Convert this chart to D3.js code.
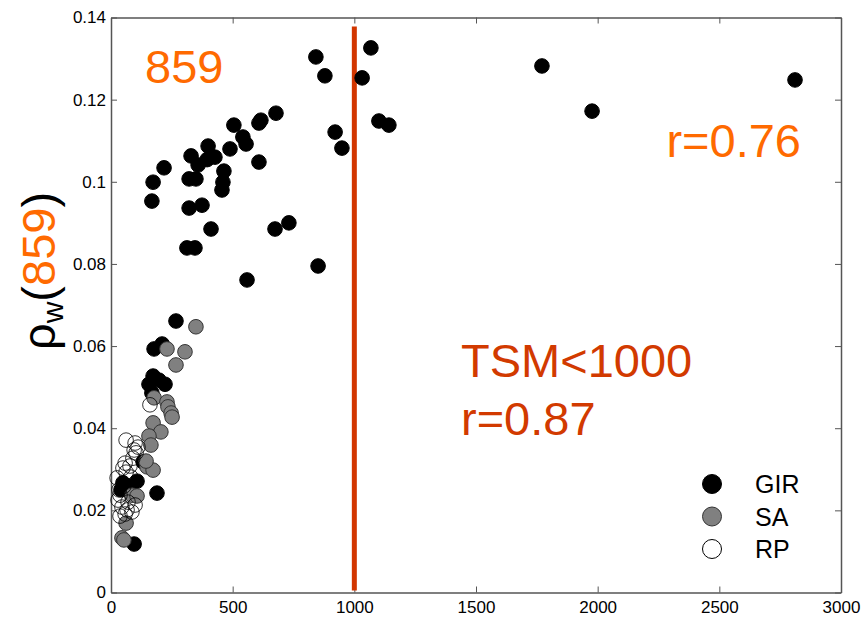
<!DOCTYPE html>
<html>
<head>
<meta charset="utf-8">
<script src="https://cdn.jsdelivr.net/npm/d3@7"></script>
<style>
  body { margin: 0; background: #fff; }
  svg { font-family: "Liberation Sans", Arial, sans-serif; }
  .tick text { fill: #000; }
</style>
</head>
<body>
<svg id="chart" width="865" height="617"></svg>
<script>
// TSM (x) vs rho_w(859) (y)
const girX = [842, 879, 1068, 1032, 921, 949, 1101, 1142, 1771, 1977, 2811, 851, 731, 674, 559,
  678, 616, 608, 608, 542, 555, 505, 489, 464, 460, 456, 427, 399, 395, 411, 374, 358, 349, 329,
  321, 321, 312, 345, 218, 173, 168, 267, 177, 210, 173, 197, 222, 156, 168, 132, 107, 189, 95,
  49, 70, 41, 78];
const girY = [0.1304, 0.1258, 0.1326, 0.1253, 0.1121, 0.1082, 0.1148, 0.1138, 0.1282, 0.1172,
  0.1248, 0.0795, 0.0900, 0.0885, 0.0761, 0.1167, 0.1150, 0.1143, 0.1048, 0.1109, 0.1092, 0.1138,
  0.1080, 0.1026, 0.0999, 0.0980, 0.1060, 0.1087, 0.1054, 0.0885, 0.0943, 0.1041, 0.1007, 0.1063,
  0.1007, 0.0936, 0.0839, 0.0839, 0.1034, 0.0999, 0.0953, 0.0661, 0.0593, 0.0605, 0.0527, 0.0517,
  0.0507, 0.0507, 0.0486, 0.0318, 0.0271, 0.0242, 0.0118, 0.0267, 0.0259, 0.0250, 0.0254];

const saX = [349, 230, 304, 267, 177, 230, 234, 247, 251, 173, 205, 156, 164, 148, 173, 144, 86,
  107, 62, 45, 53];
const saY = [0.0647, 0.0593, 0.0586, 0.0554, 0.0474, 0.0464, 0.0452, 0.0437, 0.0427, 0.0413,
  0.0391, 0.0381, 0.0359, 0.0306, 0.0298, 0.0320, 0.0237, 0.0235, 0.0169, 0.0133, 0.0128];

const rpX = [160, 99, 95, 103, 90, 111, 58, 49, 62, 78, 37, 29, 45, 66, 86, 37, 58, 33, 53, 82,
  70, 99, 25, 62];
const rpY = [0.0457, 0.0364, 0.0347, 0.0340, 0.0327, 0.0354, 0.0315, 0.0303, 0.0293, 0.0308,
  0.0237, 0.0225, 0.0208, 0.0201, 0.0196, 0.0186, 0.0191, 0.0250, 0.0259, 0.0281, 0.0220,
  0.0213, 0.0279, 0.0371];

const xTicks = [0, 500, 1000, 1500, 2000, 2500, 3000];
const yTicks = [0, 0.02, 0.04, 0.06, 0.08, 0.1, 0.12, 0.14];
const yTickLabels = ["0", "0.02", "0.04", "0.06", "0.08", "0.1", "0.12", "0.14"];
const threshold = 1000;

const svg = d3.select("#chart");
const margin = { top: 17.5, right: 24, bottom: 24.5, left: 111 };
const width = +svg.attr("width");
const height = +svg.attr("height");
const innerWidth = width - margin.left - margin.right;
const innerHeight = height - margin.top - margin.bottom;

const xScale = d3.scaleLinear().domain([0, 3000]).range([0, innerWidth]);
const yScale = d3.scaleLinear().domain([0, 0.14]).range([innerHeight, 0]);

const g = svg.append("g").attr("transform", `translate(${margin.left}, ${margin.top})`);

const axisColor = "#555";
const tickLen = 6;

// bottom / left axes with labels, ticks pointing inward
const xAxisG = g.append("g")
  .attr("transform", `translate(0, ${innerHeight})`)
  .call(d3.axisBottom(xScale).tickValues(xTicks).tickFormat(d3.format("d"))
    .tickSizeInner(-tickLen).tickSizeOuter(0).tickPadding(8.5));
const yAxisG = g.append("g")
  .call(d3.axisLeft(yScale).tickValues(yTicks).tickFormat((d, i) => yTickLabels[i])
    .tickSizeInner(-tickLen).tickSizeOuter(0).tickPadding(5));
// top / right ticks only
const xTopG = g.append("g")
  .call(d3.axisTop(xScale).tickValues(xTicks).tickSizeInner(-tickLen).tickSizeOuter(0));
const yRightG = g.append("g")
  .attr("transform", `translate(${innerWidth}, 0)`)
  .call(d3.axisRight(yScale).tickValues(yTicks).tickSizeInner(-tickLen).tickSizeOuter(0));
xTopG.selectAll(".tick text").remove();
yRightG.selectAll(".tick text").remove();

[xAxisG, yAxisG, xTopG, yRightG].forEach(a => {
  a.selectAll("line").attr("stroke", axisColor);
  a.select(".domain").attr("stroke", axisColor).attr("stroke-width", 1.5);
});
xAxisG.selectAll(".tick text").attr("font-size", 17);
yAxisG.selectAll(".tick text").attr("font-size", 17);

// threshold line
g.append("line")
  .attr("x1", xScale(threshold)).attr("x2", xScale(threshold))
  .attr("y1", yScale(0.0005)).attr("y2", yScale(0.1378))
  .attr("stroke", "#d23600").attr("stroke-width", 5);

const r = 7.3;
g.append("g").selectAll("circle")
  .data(girX.map((x, i) => [x, girY[i]]))
  .join("circle")
  .attr("cx", d => xScale(d[0])).attr("cy", d => yScale(d[1])).attr("r", r)
  .attr("fill", "#000").attr("stroke", "#000");

g.append("g").selectAll("circle")
  .data(saX.map((x, i) => [x, saY[i]]))
  .join("circle")
  .attr("cx", d => xScale(d[0])).attr("cy", d => yScale(d[1])).attr("r", r)
  .attr("fill", "#808080").attr("stroke", "#333").attr("stroke-width", 1);

g.append("g").selectAll("circle")
  .data(rpX.map((x, i) => [x, rpY[i]]))
  .join("circle")
  .attr("cx", d => xScale(d[0])).attr("cy", d => yScale(d[1])).attr("r", r)
  .attr("fill", "none").attr("stroke", "#000").attr("stroke-width", 0.8);

// annotations
const orange = "#ff6a00";
const red = "#d23a00";
svg.append("text").attr("x", 145).attr("y", 83).attr("font-size", 47)
  .attr("fill", orange).text("859");
svg.append("text").attr("x", 801).attr("y", 157).attr("font-size", 47)
  .attr("text-anchor", "end").attr("fill", orange).text("r=0.76");
svg.append("text").attr("x", 461).attr("y", 377).attr("font-size", 47)
  .attr("fill", red).text("TSM<1000");
svg.append("text").attr("x", 461).attr("y", 435).attr("font-size", 47)
  .attr("fill", red).text("r=0.87");

// y label
const yLabel = svg.append("text")
  .attr("transform", "translate(55, 271) rotate(-90)")
  .attr("text-anchor", "middle").attr("font-size", 47);
yLabel.append("tspan").text("ρ");
yLabel.append("tspan").attr("font-size", 30).attr("dy", 8).text("w");
yLabel.append("tspan").attr("dy", -8).text("(");
yLabel.append("tspan").attr("fill", orange).text("859");
yLabel.append("tspan").text(")");

// legend
const legendItems = ["GIR", "SA", "RP"];
const legendFill = ["#000", "#808080", "#fff"];
const legendStroke = ["#000", "#333", "#000"];
const legend = svg.append("g");
legendItems.forEach((name, i) => {
  const cy = 484 + i * 32.5;
  legend.append("circle").attr("cx", 712).attr("cy", cy).attr("r", 9.5)
    .attr("fill", legendFill[i]).attr("stroke", legendStroke[i]).attr("stroke-width", 1);
  legend.append("text").attr("x", 755).attr("y", cy + 9).attr("font-size", 25).text(name);
});
</script>
</body>
</html>
